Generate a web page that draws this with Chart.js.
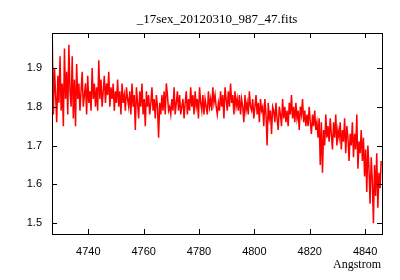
<!DOCTYPE html>
<html>
<head>
<meta charset="utf-8">
<script src="https://cdn.jsdelivr.net/npm/chart.js@4"></script>
<style>
  body { margin: 0; background: #fff; }
  #wrap { width: 400px; height: 280px; }
</style>
</head>
<body>
<div id="wrap"><canvas id="spec"></canvas></div>
<script>
const titleText = '_17sex_20120310_987_47.fits';
const xLabel = 'Angstrom';

// wavelength grid: 4727.0 .. 4845.8, step 0.4
const waveStart = 4727.0;
const waveStep = 0.4;

// flux
const flux = [
  1.97,1.78,1.90,1.83,1.76,1.88,1.81,1.93,1.79,1.86,
  1.75,1.95,1.82,1.89,1.78,1.96,1.84,1.80,1.93,1.77,
  1.87,1.75,1.91,1.82,1.86,1.79,1.84,1.89,1.80,1.83,
  1.86,1.78,1.88,1.81,1.84,1.79,1.90,1.82,1.86,1.80,
  1.85,1.79,1.92,1.82,1.87,1.80,1.84,1.88,1.81,1.86,
  1.83,1.89,1.80,1.85,1.82,1.86,1.79,1.84,1.81,1.87,
  1.80,1.84,1.78,1.86,1.81,1.83,1.79,1.85,1.82,1.80,
  1.84,1.78,1.86,1.80,1.83,1.74,1.85,1.81,1.77,1.84,
  1.80,1.86,1.78,1.82,1.75,1.84,1.80,1.83,1.78,1.81,
  1.85,1.79,1.82,1.77,1.83,1.80,1.72,1.81,1.78,1.83,
  1.79,1.84,1.78,1.86,1.83,1.79,1.80,1.78,1.82,1.79,
  1.85,1.78,1.81,1.84,1.79,1.83,1.78,1.80,1.82,1.77,
  1.81,1.84,1.78,1.82,1.79,1.85,1.80,1.83,1.78,1.84,
  1.80,1.82,1.77,1.85,1.81,1.79,1.83,1.78,1.82,1.80,
  1.78,1.84,1.80,1.82,1.79,1.85,1.81,1.83,1.80,1.78,
  1.81,1.79,1.84,1.80,1.83,1.77,1.85,1.82,1.79,1.84,
  1.80,1.86,1.81,1.83,1.78,1.84,1.80,1.82,1.79,1.83,
  1.78,1.82,1.80,1.76,1.83,1.79,1.81,1.78,1.84,1.80,
  1.79,1.82,1.77,1.80,1.83,1.78,1.81,1.76,1.82,1.79,
  1.80,1.75,1.82,1.78,1.70,1.81,1.77,1.79,1.73,1.80,
  1.79,1.76,1.81,1.77,1.74,1.80,1.78,1.75,1.82,1.77,
  1.80,1.76,1.79,1.75,1.81,1.78,1.83,1.77,1.80,1.76,
  1.81,1.77,1.79,1.74,1.80,1.78,1.82,1.76,1.79,1.75,
  1.78,1.75,1.80,1.76,1.73,1.78,1.75,1.79,1.74,1.76,
  1.72,1.77,1.65,1.76,1.63,1.74,1.70,1.78,1.72,1.75,
  1.71,1.77,1.73,1.69,1.76,1.72,1.78,1.70,1.74,1.72,
  1.76,1.69,1.74,1.71,1.77,1.68,1.75,1.72,1.66,1.73,
  1.70,1.76,1.67,1.73,1.69,1.78,1.64,1.71,1.68,1.74,
  1.66,1.72,1.62,1.69,1.58,1.70,1.64,1.55,1.67,1.61,
  1.50,1.65,1.57,1.68,1.54,1.63,1.59,1.66
];

const xTicks = [4740, 4760, 4780, 4800, 4820, 4840];
const yTicks = [1.5, 1.6, 1.7, 1.8, 1.9];

const points = flux.map((f, i) => ({ x: waveStart + i * waveStep, y: f }));

// gnuplot style frame: box, inward ticks on all four sides, labels
const framePlugin = {
  id: 'frame',
  afterDraw(chart) {
    const ctx = chart.ctx;
    const a = chart.chartArea;
    const xs = chart.scales.x;
    const ys = chart.scales.y;
    ctx.save();
    ctx.strokeStyle = '#000';
    ctx.lineWidth = 1;
    ctx.strokeRect(a.left + 0.5, a.top + 0.5, a.right - a.left, a.bottom - a.top);

    ctx.beginPath();
    xTicks.forEach(t => {
      const px = Math.round(xs.getPixelForValue(t)) + 0.5;
      ctx.moveTo(px, a.bottom); ctx.lineTo(px, a.bottom - 5);
      ctx.moveTo(px, a.top); ctx.lineTo(px, a.top + 5);
    });
    yTicks.forEach(t => {
      const py = Math.round(ys.getPixelForValue(t)) + 0.5;
      ctx.moveTo(a.left, py); ctx.lineTo(a.left + 5, py);
      ctx.moveTo(a.right, py); ctx.lineTo(a.right - 5, py);
    });
    ctx.stroke();

    ctx.fillStyle = '#000';
    ctx.font = '11px "Liberation Sans", sans-serif';
    ctx.textBaseline = 'middle';
    ctx.textAlign = 'center';
    xTicks.forEach(t => ctx.fillText(String(t), xs.getPixelForValue(t), a.bottom + 18));
    ctx.textAlign = 'right';
    yTicks.forEach(t => ctx.fillText(t.toFixed(1), a.left - 10, ys.getPixelForValue(t)));

    ctx.font = '12px "Liberation Serif", serif';
    ctx.textAlign = 'right';
    ctx.fillText(xLabel, a.right - 1, a.bottom + 31);

    ctx.font = '13px "Liberation Serif", serif';
    ctx.textAlign = 'center';
    ctx.fillText(titleText, (a.left + a.right) / 2, 20);
    ctx.restore();
  }
};

new Chart(document.getElementById('spec'), {
  type: 'line',
  data: {
    datasets: [{
      data: points,
      borderColor: '#ff0000',
      borderWidth: 1.5,
      pointRadius: 0,
      tension: 0,
      fill: false
    }]
  },
  options: {
    responsive: true,
    maintainAspectRatio: false,
    animation: false,
    layout: { padding: { left: 52, right: 18, top: 33, bottom: 46 } },
    plugins: {
      legend: { display: false },
      tooltip: { enabled: false }
    },
    scales: {
      x: { type: 'linear', min: 4726.9, max: 4846.1, display: false },
      y: { min: 1.472, max: 1.99, display: false }
    }
  },
  plugins: [framePlugin]
});
</script>
</body>
</html>
